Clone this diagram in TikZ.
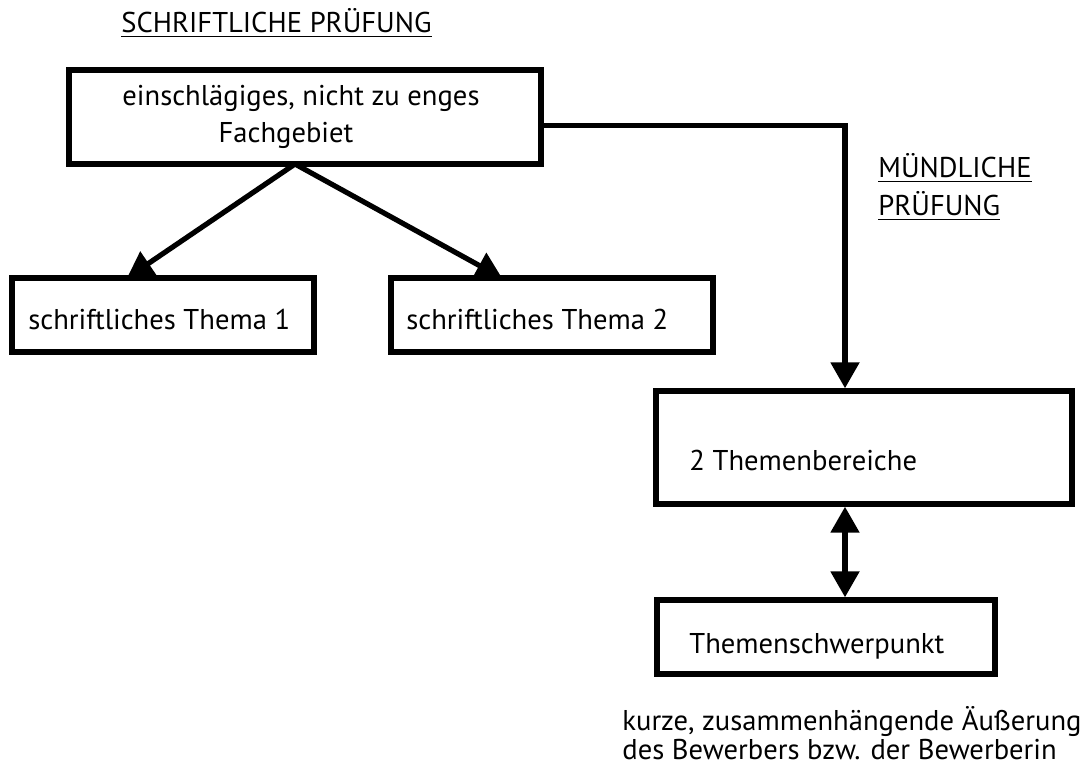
\documentclass[tikz,border=0pt]{standalone}
\usepackage{fontspec}
\setmainfont{PT Sans}
\newcommand\myul[1]{\setbox0\hbox{#1}\rlap{\rule[-2.6pt]{\wd0}{0.8pt}}\box0}
\usetikzlibrary{arrows.meta,calc}
\begin{document}
\begin{tikzpicture}[x=0.5pt,y=-0.5pt,
  box/.style={draw=black,line width=2.7pt,fill=white,inner sep=0pt},
  txt/.style={inner sep=0pt,font=\fontsize{14.3}{16}\selectfont},
  conn/.style={line width=2.6pt,-{Triangle[width=14pt,length=13pt]}},
  dconn/.style={line width=2.6pt,{Triangle[width=14pt,length=13pt]}-{Triangle[width=14pt,length=13pt]}}]
\useasboundingbox (0,0) rectangle (1092,767);
% boxes
\node[box,minimum width=236pt,minimum height=47pt] (b1) at (305,117) {};
\node[box,minimum width=151pt,minimum height=37pt] (b2) at (163,315) {};
\node[box,minimum width=161pt,minimum height=37pt] (b3) at (552,315) {};
\node[box,minimum width=208pt,minimum height=56.5pt] (b4) at (864,447.5) {};
\node[box,minimum width=169pt,minimum height=37pt] (b5) at (826,637) {};
% texts
\node[txt,anchor=base west] (h1) at (121,32) {\myul{SCHRIFTLICHE PRÜFUNG}};
\node[txt,anchor=base] (t1a) at (301,105) {einschlägiges, nicht zu enges};
\node[txt,anchor=base] (t1b) at (286,142) {Fachgebiet};
\node[txt,anchor=base west] (h2a) at (878,177) {\myul{MÜNDLICHE}};
\node[txt,anchor=base west] (h2b) at (878,215) {\myul{PRÜFUNG}};
\node[txt,anchor=base west] (t2) at (28,329) {schriftliches Thema 1};
\node[txt,anchor=base west] (t3) at (406,329) {schriftliches Thema 2};
\node[txt,anchor=base west] (t4) at (689,470) {2 Themenbereiche};
\node[txt,anchor=base west] (t5) at (689,653) {Themenschwerpunkt};
\node[txt,anchor=base west] (n1) at (622,730) {kurze, zusammenhängende Äußerung};
\node[txt,anchor=base west] (n2) at (622,759) {des Bewerbers bzw. der Bewerberin};
% connectors
\coordinate (apex) at (295,164);
\coordinate (tipL) at (127,278);
\coordinate (tipR) at (502,278);
\coordinate (turn) at (845,125.5);
\draw[conn] (apex) -- (tipL);
\draw[conn] (apex) -- (tipR);
\draw[conn,line join=miter] (b1.east |- turn) -- (turn) -- (turn |- b4.north);
\draw[dconn] (turn |- b4.south) -- (turn |- b5.north);
\end{tikzpicture}
\end{document}
